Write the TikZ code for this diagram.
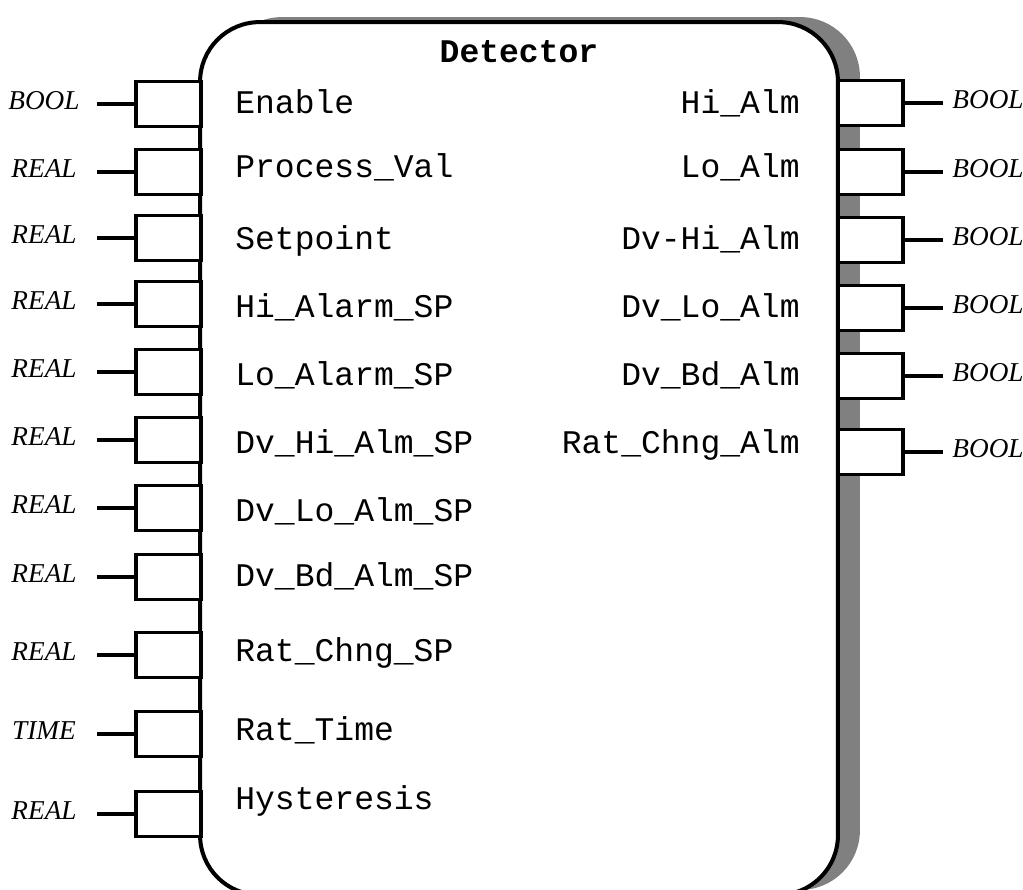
\documentclass[tikz,border=0pt]{standalone}
\usepackage{fontspec}
\setmainfont{Liberation Serif}
\setmonofont{Liberation Mono}
\usetikzlibrary{positioning,shadows}

\begin{document}
\begin{tikzpicture}[x=0.02cm,y=-0.02cm,
  fblock/.style={draw=black,line width=2.3pt,fill=white,rounded corners=34pt,minimum width=12.76cm,minimum height=17.46cm,inner sep=0pt,
    drop shadow={shadow xshift=0.44cm,shadow yshift=0.1cm,fill=black!50,opacity=1}},
  pin/.style={draw=black,line width=2pt,fill=white,minimum width=1.3cm,minimum height=0.9cm,inner sep=0pt},
  stub/.style={line width=2pt},
  dtype/.style={font=\fontsize{15.5pt}{18pt}\selectfont\itshape,inner sep=0pt},
  port/.style={font=\fontsize{18.8pt}{22pt}\selectfont\ttfamily,inner sep=0pt}
]
\useasboundingbox (0,0) rectangle (1023,889);
\node[fblock] (fb) at (519,458.5) {};
\node[port,anchor=base] (title) at (519,62) {\textbf{Detector}};
% inputs
\foreach \y/\ty/\typ/\lbl [count=\i] in {104/104/BOOL/Enable,172/168/REAL/Process\_Val,238/240/REAL/Setpoint,
  304/308/REAL/Hi\_Alarm\_SP,372/376/REAL/Lo\_Alarm\_SP,440/444/REAL/Dv\_Hi\_Alm\_SP,508/512/REAL/Dv\_Lo\_Alm\_SP,
  577/577/REAL/Dv\_Bd\_Alm\_SP,655/652/REAL/Rat\_Chng\_SP,734/731/TIME/Rat\_Time,814/800/REAL/Hysteresis}{
  \node[pin] (in\i) at (168.5,\y) {};
  \coordinate (inend\i) at (97,\y);
  \draw[stub] (in\i.west) -- (inend\i);
  \node[dtype,anchor=base] (intype\i) at (44,\y+5) {\typ};
  \node[port,anchor=base west] (inname\i) at (235,\ty+9) {\lbl};
}
% outputs
\foreach \y/\ty/\lbl [count=\i] in {103/104/Hi\_Alm,172/168/Lo\_Alm,240/240/Dv-Hi\_Alm,
  308/308/Dv\_Lo\_Alm,376/376/Dv\_Bd\_Alm,452/444/Rat\_Chng\_Alm}{
  \node[pin] (out\i) at (870.5,\y) {};
  \coordinate (outend\i) at (943,\y);
  \draw[stub] (out\i.east) -- (outend\i);
  \node[dtype,anchor=base] (outtype\i) at (988,\y+5) {BOOL};
  \node[port,anchor=base east] (outname\i) at (800,\ty+9) {\lbl};
}
\end{tikzpicture}
\end{document}
